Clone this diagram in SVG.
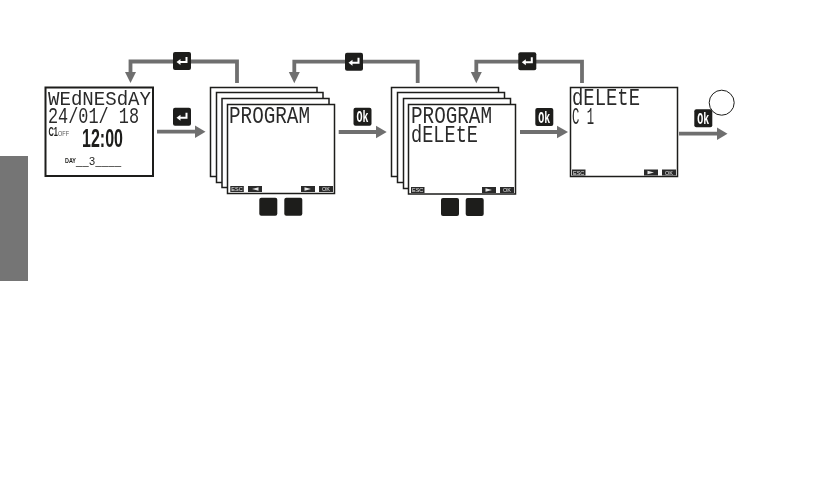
<svg xmlns="http://www.w3.org/2000/svg" width="822" height="482" viewBox="0 0 822 482">
<style>
.lcd{fill:#fff;stroke:#1d1d1b;stroke-width:1.5}
.seg{font-family:"Liberation Mono",monospace;fill:#2a2a2a;filter:url(#gs)}
.bd{font-family:"Liberation Sans",sans-serif;font-weight:700;fill:#1d1d1b;filter:url(#gs)}
.key{fill:#1d1d1b}
.keyt{font-family:"Liberation Mono",monospace;font-weight:700;font-size:17px;fill:#fff;text-anchor:middle}
.soft{fill:#2a2a2a}
.softt{font-family:"Liberation Sans",sans-serif;font-size:5.500px;fill:#e8e8e8;text-anchor:middle}
.conn{fill:none;stroke:#6f6f6f;stroke-width:3.800}
.head{fill:#6f6f6f}
.ent{fill:none;stroke:#fff;stroke-width:2}
</style>
<defs>
<filter id="gs" x="-20%" y="-20%" width="140%" height="140%" color-interpolation-filters="sRGB"><feOffset dx="0" dy="0"/></filter>
<g id="enter"><rect class="key" width="18" height="18" rx="2"/><path class="ent" d="M13.500 5V10H6"/><path d="M3.500 10L7.500 7V13Z" fill="#fff"/></g>
<g id="ok"><rect class="key" width="18" height="18" rx="2"/><text class="keyt" x="9" y="14.500" textLength="12" lengthAdjust="spacingAndGlyphs" filter="url(#gs)">Ok</text></g>
<g id="softR"><rect class="soft" width="14" height="6"/><path d="M3.500 1.200L10 3L3.500 4.800Z" fill="#e8e8e8"/></g>
<g id="softL"><rect class="soft" width="14" height="6"/><path d="M10.500 1.200L4 3L10.500 4.800Z" fill="#e8e8e8"/></g>
<g id="esc"><rect class="soft" width="13.500" height="6"/><text class="softt" x="6.700" y="5" filter="url(#gs)">ESC</text></g>
<g id="okS"><rect class="soft" width="14" height="6"/><text class="softt" x="7" y="5" filter="url(#gs)">OK</text></g>
</defs>

<rect id="side-tab" x="0" y="156" width="28" height="125" fill="#757575"/>

<g id="connectors">
<path class="conn" d="M237 83V61.500H130.500V73"/>
<path class="head" d="M125 72H136L130.500 83Z"/>
<path class="conn" d="M157 131.700H196"/>
<path class="head" d="M195 125.500L205.500 131.700L195 138Z"/>
<path class="conn" d="M417.700 83V61.700H294.300V73"/>
<path class="head" d="M288.800 72H299.800L294.300 83.300Z"/>
<path class="conn" d="M338.700 132H377"/>
<path class="head" d="M376 125.700L386.700 132L376 138.300Z"/>
<path class="conn" d="M582 83V61.700H476.300V73"/>
<path class="head" d="M470.800 72H481.800L476.300 83.300Z"/>
<path class="conn" d="M520 132H558"/>
<path class="head" d="M557 125.700L568 132L557 138.300Z"/>
<path class="conn" d="M679 133.700H718"/>
<path class="head" d="M717 127.500L727.500 133.700L717 140Z"/>
</g>

<g id="display-main">
<rect class="lcd" x="45.500" y="87.500" width="107.500" height="88.500" style="stroke-width:2"/>
<text class="seg" x="48" y="105" font-size="21" textLength="103" lengthAdjust="spacingAndGlyphs">WEdNESdAY</text>
<text class="seg" x="48" y="123" font-size="22.500" textLength="91" lengthAdjust="spacingAndGlyphs">24/01/ 18</text>
<text class="bd" x="48.500" y="136" font-size="13" textLength="9.500" lengthAdjust="spacingAndGlyphs">C1</text>
<text x="58" y="136" font-family="Liberation Sans,sans-serif" font-size="7" fill="#555" filter="url(#gs)" textLength="11" lengthAdjust="spacingAndGlyphs">OFF</text>
<text class="bd" x="82" y="147" font-size="25" textLength="41" lengthAdjust="spacingAndGlyphs">12:00</text>
<text class="bd" x="65" y="163" font-size="7.500" textLength="11" lengthAdjust="spacingAndGlyphs">DAY</text>
<text class="bd" x="76" y="164.500" font-size="11" textLength="45" style="font-weight:400">__3____</text>
</g>

<g id="key-enter-1"><use href="#enter" x="173" y="52"/></g>
<g id="key-enter-2"><use href="#enter" x="173" y="107.700"/></g>
<g id="key-enter-3"><use href="#enter" x="345" y="52.700"/></g>
<g id="key-enter-4"><use href="#enter" x="518.300" y="52.300"/></g>
<g id="key-ok-1"><use href="#ok" x="353.500" y="107.700"/></g>
<g id="key-ok-2"><use href="#ok" x="535.300" y="108"/></g>

<g id="display-program">
<rect class="lcd" x="210.500" y="87.500" width="106.500" height="89"/>
<rect class="lcd" x="216.500" y="92.500" width="106.500" height="90"/>
<rect class="lcd" x="222" y="98.500" width="107" height="89"/>
<rect class="lcd" x="227.500" y="104.500" width="107" height="89"/>
<text class="seg" x="229" y="123" font-size="24" textLength="81" lengthAdjust="spacingAndGlyphs">PROGRAM</text>
<use href="#esc" x="230.300" y="186"/>
<use href="#softL" x="248" y="186"/>
<use href="#softR" x="301" y="186"/>
<use href="#okS" x="319" y="186"/>
</g>
<g id="button-1a"><rect class="key" x="259.300" y="197.700" width="18" height="18" rx="2"/></g>
<g id="button-1b"><rect class="key" x="284.300" y="197.700" width="18" height="18" rx="2"/></g>

<g id="display-program-delete">
<rect class="lcd" x="391.500" y="87.500" width="107" height="89"/>
<rect class="lcd" x="397.500" y="92.500" width="107" height="90"/>
<rect class="lcd" x="403.500" y="98.500" width="107" height="90"/>
<rect class="lcd" x="408.500" y="104.500" width="107" height="89.500"/>
<text class="seg" x="411" y="123" font-size="24" textLength="81" lengthAdjust="spacingAndGlyphs">PROGRAM</text>
<text class="seg" x="411" y="141.500" font-size="23" textLength="67" lengthAdjust="spacingAndGlyphs">dELEtE</text>
<use href="#esc" x="411" y="187"/>
<use href="#softR" x="482" y="187"/>
<use href="#okS" x="500" y="187"/>
</g>
<g id="button-2a"><rect class="key" x="441" y="198" width="18" height="18" rx="2"/></g>
<g id="button-2b"><rect class="key" x="465.700" y="198" width="18" height="18" rx="2"/></g>

<g id="display-delete">
<rect class="lcd" x="570.500" y="87.500" width="107" height="89"/>
<text class="seg" x="572" y="105" font-size="23" textLength="68" lengthAdjust="spacingAndGlyphs">dELEtE</text>
<text class="seg" x="572" y="124" font-size="24" textLength="22" lengthAdjust="spacingAndGlyphs">C 1</text>
<use href="#esc" x="572" y="169.500"/>
<use href="#softR" x="644" y="169.500"/>
<use href="#okS" x="662" y="169.500"/>
</g>

<g id="key-ok-3"><use href="#ok" x="694.300" y="109.300"/></g>
<g id="circle-end"><circle cx="721.700" cy="102.700" r="12.500" fill="#fff" stroke="#1d1d1b" stroke-width="1"/></g>
</svg>
